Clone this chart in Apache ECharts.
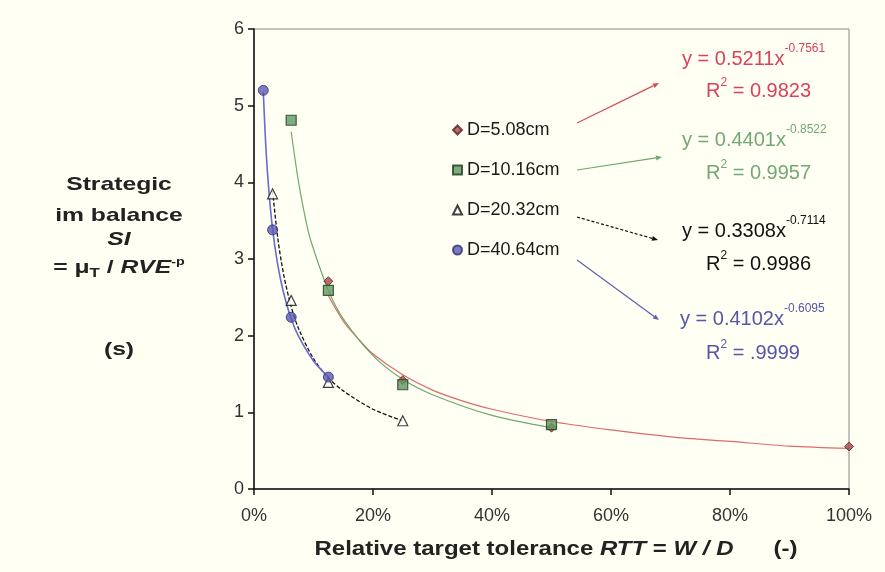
<!DOCTYPE html>
<html>
<head>
<meta charset="utf-8">
<script src="https://cdn.jsdelivr.net/npm/echarts@6/dist/echarts.min.js"></script>
<style>
html,body{margin:0;padding:0;background:#fffff4;}
#c{width:885px;height:572px;}
</style>
</head>
<body>
<div id="c"></div>
<script>
// ---- data: measured points ----
const seriesNames = ['D=5.08cm', 'D=10.16cm', 'D=20.32cm', 'D=40.64cm'];
const xD508  = [0.125, 0.25, 0.5, 1.0];
const yD508  = [2.71, 1.42, 0.80, 0.555];
const xD1016 = [0.0625, 0.125, 0.25, 0.5];
const yD1016 = [4.81, 2.59, 1.36, 0.84];
const xD2032 = [0.03125, 0.0625, 0.125, 0.25];
const yD2032 = [3.85, 2.46, 1.39, 0.89];
const xD4064 = [0.015625, 0.03125, 0.0625, 0.125];
const yD4064 = [5.20, 3.38, 2.24, 1.46];

// ---- data: power trend curves ----
const trendX508  = [0.125, 0.15, 0.175, 0.2, 0.25, 0.3, 0.35, 0.4, 0.5, 0.6, 0.7, 0.8, 0.9, 1.0];
const trendY508  = [2.52, 2.19, 1.96, 1.76, 1.49, 1.29, 1.15, 1.04, 0.88, 0.77, 0.68, 0.62, 0.56, 0.53];
const trendX1016 = [0.0625, 0.075, 0.09, 0.1, 0.125, 0.15, 0.2, 0.25, 0.3, 0.4, 0.5];
const trendY1016 = [4.66, 4.00, 3.40, 3.13, 2.59, 2.22, 1.74, 1.43, 1.23, 0.96, 0.80];
const trendX2032 = [0.03125, 0.04, 0.05, 0.0625, 0.075, 0.1, 0.125, 0.15, 0.2, 0.25];
const trendY2032 = [3.89, 3.27, 2.79, 2.38, 2.09, 1.70, 1.45, 1.28, 1.04, 0.89];
const trendX4064 = [0.015625, 0.02, 0.025, 0.03125, 0.04, 0.05, 0.0625, 0.075, 0.1, 0.125];
const trendY4064 = [5.18, 4.45, 3.89, 3.39, 2.92, 2.55, 2.22, 1.99, 1.67, 1.46];

// ---- annotation texts ----
const fitEquations = ['0.5211', '0.4401', '0.3308', '0.4102'];
const fitExponents = ['-0.7561', '-0.8522', '-0.7114', '-0.6095'];
const fitR2 = ['0.9823', '0.9957', '0.9986', '.9999'];

const FONT = '"Liberation Sans", Arial, sans-serif';
const BG = '#fffff4';

function pairs(xs, ys) { return xs.map((x, i) => [x, ys[i]]); }

const xsAll = [xD508, xD1016, xD2032, xD4064];
const ysAll = [yD508, yD1016, yD2032, yD4064];
const txAll = [trendX508, trendX1016, trendX2032, trendX4064];
const tyAll = [trendY508, trendY1016, trendY2032, trendY4064];

const markerStyles = [
  { symbol: 'diamond', size: 9, itemStyle: { color: '#a84848', borderColor: '#5a2222', borderWidth: 1 } },
  { symbol: 'rect', size: 10, itemStyle: { color: '#5e9a60', borderColor: '#1f3a20', borderWidth: 1.2 } },
  { symbol: 'triangle', size: 10, itemStyle: { color: '#ffffff', borderColor: '#111111', borderWidth: 1.2 } },
  { symbol: 'circle', size: 10, itemStyle: { color: '#5a5ab4', borderColor: '#2e2e70', borderWidth: 1 } }
];
const lineStyles = [
  { color: '#e06a6a', width: 1.2, type: 'solid' },
  { color: '#6ea86e', width: 1.2, type: 'solid' },
  { color: '#111111', width: 1.3, type: [4, 2] },
  { color: '#6a6ad0', width: 1.6, type: 'solid' }
];
const textColors = ['#d8435a', '#74a874', '#111111', '#5656a8'];

const series = [];
for (let i = 0; i < 4; i++) {
  series.push({
    name: 'trend' + i,
    type: 'line',
    data: pairs(txAll[i], tyAll[i]),
    smooth: 0.3,
    showSymbol: false,
    symbol: 'none',
    lineStyle: lineStyles[i],
    z: 2,
    silent: true
  });
}
for (let i = 0; i < 4; i++) {
  series.push({
    name: seriesNames[i],
    type: 'scatter',
    data: pairs(xsAll[i], ysAll[i]),
    symbol: markerStyles[i].symbol,
    symbolSize: markerStyles[i].size,
    itemStyle: markerStyles[i].itemStyle,
    z: 5
  });
}

// arrows from legend to equations (annotation graphics)
const arrows = [
  [[577, 123], [659, 83]],
  [[577, 170], [662, 157]],
  [[577, 217], [658, 240]],
  [[577, 260], [659, 320]]
];
const arrowColors = ['#d84a5a', '#6ea86e', '#111111', '#6060b0'];
const graphics = [];
arrows.forEach((a, i) => {
  const [p0, p1] = a;
  const ang = Math.atan2(p1[1] - p0[1], p1[0] - p0[0]);
  const L = 6, W = 2.5;
  const bx = p1[0] - L * Math.cos(ang), by = p1[1] - L * Math.sin(ang);
  const nx = -Math.sin(ang), ny = Math.cos(ang);
  graphics.push({
    type: 'line',
    shape: { x1: p0[0], y1: p0[1], x2: bx, y2: by },
    style: { stroke: arrowColors[i], lineWidth: 1.2, lineDash: i === 2 ? [3, 2] : null },
    z: 10
  });
  graphics.push({
    type: 'polygon',
    shape: { points: [[p1[0], p1[1]], [bx + nx * W, by + ny * W], [bx - nx * W, by - ny * W]] },
    style: { fill: arrowColors[i] },
    z: 10
  });
});

// equations
const eqPos = [[682, 58, 706, 90], [682, 139, 706, 172], [682, 230, 706, 263], [680, 318, 706, 352]];
for (let i = 0; i < 4; i++) {
  const c = textColors[i];
  graphics.push({
    type: 'text',
    left: eqPos[i][0], top: eqPos[i][1] - 15,
    style: {
      text: '{m|y = ' + fitEquations[i] + 'x}{s|' + fitExponents[i] + '}',
      fill: c,
      rich: {
        m: { fontSize: 20, fontFamily: FONT, lineHeight: 26, verticalAlign: 'bottom', color: c },
        s: { fontSize: 12, fontFamily: FONT, lineHeight: 26, verticalAlign: 'top', color: c }
      }
    },
    z: 10
  });
  graphics.push({
    type: 'text',
    left: eqPos[i][2], top: eqPos[i][3] - 13,
    style: {
      text: '{m|R}{s|2}{m| = ' + fitR2[i] + '}',
      fill: c,
      rich: {
        m: { fontSize: 20, fontFamily: FONT, lineHeight: 24, verticalAlign: 'bottom', color: c },
        s: { fontSize: 12, fontFamily: FONT, lineHeight: 24, verticalAlign: 'top', color: c }
      }
    },
    z: 10
  });
}

// y-axis title block
const yTitle = [
  { t: '{b|Strategic}', y: 185 },
  { t: '{b|im balance}', y: 216 },
  { t: '{bi|SI}', y: 240 },
  { t: '{b|= μ}{sub|T}{b| / }{bi|RVE}{sup|-p}', y: 268 },
  { t: '{b|(s)}', y: 350 }
];
const yRich = {
  b: { fontSize: 19, fontWeight: 'bold', fontFamily: FONT, color: '#222', lineHeight: 24, verticalAlign: 'middle' },
  bi: { fontSize: 19, fontWeight: 'bold', fontStyle: 'italic', fontFamily: FONT, color: '#222', lineHeight: 24 },
  sub: { fontSize: 13, fontWeight: 'bold', fontFamily: FONT, color: '#222', lineHeight: 24, verticalAlign: 'bottom' },
  sup: { fontSize: 11, fontWeight: 'bold', fontFamily: FONT, color: '#222', lineHeight: 24, verticalAlign: 'top' }
};
yTitle.forEach(r => {
  graphics.push({
    type: 'text',
    x: 119, y: r.y,
    scaleX: 1.3,
    style: { text: r.t, rich: yRich, align: 'center', verticalAlign: 'middle', fill: '#222' }
  });
});

// x-axis title
graphics.push({
  type: 'text',
  x: 556, y: 549,
  scaleX: 1.2,
  style: {
    text: '{b|Relative target tolerance }{bi|RTT}{b| = }{bi|W / D}{b|      (-)}',
    align: 'center', verticalAlign: 'middle', fill: '#222',
    rich: {
      b: { fontSize: 20, fontWeight: 'bold', fontFamily: FONT, color: '#222' },
      bi: { fontSize: 20, fontWeight: 'bold', fontStyle: 'italic', fontFamily: FONT, color: '#222' }
    }
  }
});

const chart = echarts.init(document.getElementById('c'), null, { renderer: 'canvas' });
chart.setOption({
  backgroundColor: BG,
  animation: false,
  grid: {
    left: 254, right: 36, top: 29, bottom: 83,
    show: true, borderColor: '#8a8a8a', borderWidth: 1, backgroundColor: BG
  },
  legend: {
    orient: 'vertical',
    left: 447, top: 116,
    itemGap: 22,
    itemWidth: 9, itemHeight: 9,
    data: [
      { name: seriesNames[0], icon: 'diamond' },
      { name: seriesNames[1], icon: 'rect' },
      { name: seriesNames[2], icon: 'triangle' },
      { name: seriesNames[3], icon: 'circle' }
    ],
    textStyle: { fontSize: 18, fontFamily: FONT, color: '#1a1a1a' },
    backgroundColor: 'transparent'
  },
  xAxis: {
    type: 'value', min: 0, max: 1, interval: 0.2,
    axisLine: { lineStyle: { color: '#111', width: 1.5 } },
    axisTick: { show: true, inside: false, length: 6, lineStyle: { color: '#111', width: 1.5 } },
    axisLabel: { fontSize: 18, fontFamily: FONT, color: '#333', margin: 18,
      formatter: v => Math.round(v * 100) + '%' },
    splitLine: { show: false }
  },
  yAxis: {
    type: 'value', min: 0, max: 6, interval: 1,
    axisLine: { show: true, lineStyle: { color: '#111', width: 1.5 } },
    axisTick: { show: true, inside: false, length: 6, lineStyle: { color: '#111', width: 1.5 } },
    axisLabel: { fontSize: 18, fontFamily: FONT, color: '#333', margin: 10 },
    splitLine: { show: false }
  },
  series: series,
  graphic: graphics
});
</script>
</body>
</html>
